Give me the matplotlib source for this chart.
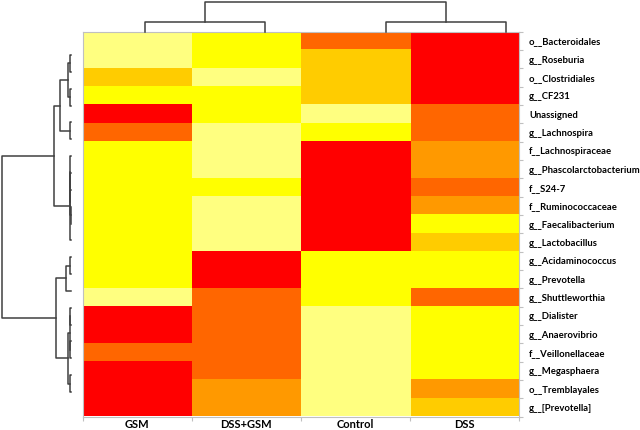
import numpy as np
import matplotlib
matplotlib.use('Agg')
import matplotlib.pyplot as plt
from matplotlib.colors import ListedColormap, BoundaryNorm

# 데이터 (색 단계: 0=연노랑 ... 5=빨강)
samples = ['GSM', 'DSS+GSM', 'Control', 'DSS']
taxa = ['o__Bacteroidales', 'g__Roseburia', 'o__Clostridiales', 'g__CF231',
        'Unassigned', 'g__Lachnospira', 'f__Lachnospiraceae',
        'g__Phascolarctobacterium', 'f__S24-7', 'f__Ruminococcaceae',
        'g__Faecalibacterium', 'g__Lactobacillus', 'g__Acidaminococcus',
        'g__Prevotella', 'g__Shuttleworthia', 'g__Dialister',
        'g__Anaerovibrio', 'f__Veillonellaceae', 'g__Megasphaera',
        'o__Tremblayales', 'g__[Prevotella]']

gsm     = [0, 0, 2, 1, 5, 4, 1, 1, 1, 1, 1, 1, 1, 1, 0, 5, 5, 4, 5, 5, 5]
dss_gsm = [1, 1, 0, 1, 1, 0, 0, 0, 1, 0, 0, 0, 5, 5, 4, 4, 4, 4, 4, 3, 3]
control = [4, 2, 2, 2, 0, 1, 5, 5, 5, 5, 5, 5, 1, 1, 1, 0, 0, 0, 0, 0, 0]
dss     = [5, 5, 5, 5, 4, 4, 3, 3, 4, 3, 1, 2, 1, 1, 4, 1, 1, 1, 1, 3, 2]

# 클러스터 병합 (a, b, 높이) - 인덱스 >= n 은 이전 병합
row_merges = [(0, 1, 0.3), (2, 3, 0.5), (21, 22, 2.7), (4, 5, 0.4),
              (23, 24, 10.7), (9, 10, 0.2), (8, 26, 0.4), (7, 27, 0.6),
              (6, 28, 0.8), (29, 11, 1.2), (25, 30, 16.7), (12, 13, 0.6),
              (32, 14, 4.7), (15, 16, 0.3), (17, 18, 0.4), (34, 35, 0.9),
              (19, 20, 0.5), (36, 37, 2.7), (33, 38, 14.7), (31, 39, 68.4)]
col_merges = [(0, 1, 9.7), (2, 3, 9.7), (4, 5, 30.0)]

colors = ['#FFFF80', '#FFFF00', '#FFCC00', '#FF9900', '#FF6600', '#FF0000']
cmap = ListedColormap(colors)
norm = BoundaryNorm(np.arange(-0.5, 6.5, 1), cmap.N)

data = np.array([gsm, dss_gsm, control, dss]).T

W, H = 640, 430
fig = plt.figure(figsize=(W / 100, H / 100), dpi=100)


def box(x0, y0, x1, y1):
    return [x0 / W, 1 - y1 / H, (x1 - x0) / W, (y1 - y0) / H]


def draw_dendro(ax, merges, n, vertical):
    pos = {i: i + 0.5 for i in range(n)}
    hgt = {i: 0.0 for i in range(n)}
    for k, (a, b, h) in enumerate(merges):
        xs = [pos[a], pos[a], pos[b], pos[b]]
        ys = [hgt[a], h, h, hgt[b]]
        if vertical:
            ax.plot(xs, ys, color='#404040', lw=1.1, clip_on=False)
        else:
            ax.plot(ys, xs, color='#404040', lw=1.1, clip_on=False)
        pos[n + k] = (pos[a] + pos[b]) / 2
        hgt[n + k] = h


# 히트맵
ax = fig.add_axes(box(82.7, 31.7, 519.3, 416.5))
ax.imshow(data, cmap=cmap, norm=norm, aspect='auto', interpolation='nearest')
for s in ax.spines.values():
    s.set_color('#C0C0C0')
    s.set_linewidth(0.8)
ax.yaxis.tick_right()
ax.set_yticks(np.arange(len(taxa)))
ax.set_yticklabels(taxa, fontsize=6.8, fontweight='bold', family='Lato')
ax.set_xticks(np.arange(len(samples)))
ax.set_xticklabels(samples, fontsize=8, fontweight='bold', family='Lato')
ax.tick_params(axis='y', length=0, pad=7)
ax.tick_params(axis='x', length=0, pad=2)
ax.set_yticks(np.arange(-0.5, len(taxa)), minor=True)
ax.set_xticks(np.arange(-0.5, len(samples)), minor=True)
ax.tick_params(which='minor', length=3, color='#C0C0C0', width=0.8)
ax.tick_params(which='minor', axis='y', left=False, right=True)

# 위쪽 덴드로그램
axt = fig.add_axes(box(84.9, 1.7, 566.3, 31.7))
draw_dendro(axt, col_merges, 4, vertical=True)
axt.set_xlim(0, 4)
axt.set_ylim(0, 30)
axt.axis('off')

# 왼쪽 덴드로그램
axl = fig.add_axes(box(2.3, 46.6, 70.7, 400.4))
draw_dendro(axl, row_merges, 21, vertical=False)
axl.set_xlim(68.4, 0)
axl.set_ylim(21, 0)
axl.axis('off')

fig.savefig('out.png', dpi=100)
